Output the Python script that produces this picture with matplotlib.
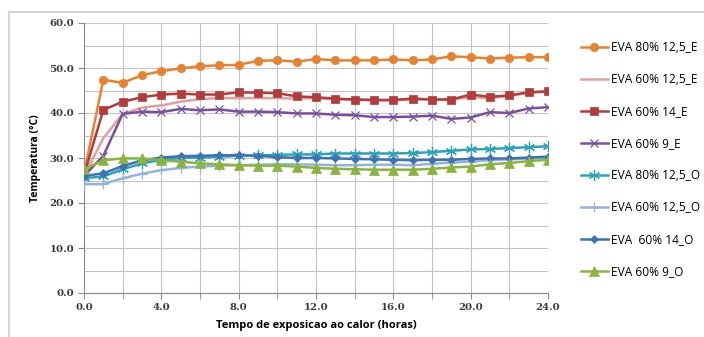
import matplotlib.pyplot as plt
from matplotlib.patches import Rectangle
from matplotlib.ticker import MultipleLocator, FormatStrFormatter

hours = list(range(0, 25))

eva80_125_E = [26.5, 47.4, 46.7, 48.4, 49.3, 49.9, 50.4, 50.6, 50.7, 51.6, 51.7, 51.4, 52.0,
               51.7, 51.7, 51.7, 51.9, 51.7, 51.9, 52.6, 52.4, 52.1, 52.3, 52.4, 52.4]
eva60_125_E = [26.0, 34.4, 39.8, 41.2, 41.7, 42.5, 43.1, 43.3, 43.3, 43.3, 43.3, 43.2, 43.3,
               43.0, 43.0, 42.8, 42.8, 43.0, 43.0, 43.0, 43.5, 43.3, 43.8, 44.5, 44.8]
eva60_14_E = [26.2, 40.7, 42.5, 43.5, 44.1, 44.3, 44.1, 44.1, 44.6, 44.5, 44.4, 43.7, 43.5,
              43.2, 43.0, 42.9, 42.9, 43.2, 43.0, 43.0, 44.1, 43.6, 43.9, 44.6, 44.8]
eva60_9_E = [26.0, 30.5, 39.8, 40.3, 40.2, 40.9, 40.6, 40.8, 40.3, 40.3, 40.2, 39.9, 39.9,
             39.6, 39.5, 39.1, 39.1, 39.2, 39.4, 38.7, 39.0, 40.2, 40.0, 41.0, 41.3]
eva80_125_O = [25.5, 25.9, 27.5, 28.8, 29.6, 30.0, 30.1, 30.3, 30.5, 30.6, 30.7, 30.8, 30.8,
               31.0, 31.0, 31.0, 31.0, 31.1, 31.3, 31.6, 31.9, 32.0, 32.2, 32.4, 32.6]
eva60_125_O = [24.2, 24.2, 25.5, 26.5, 27.3, 27.8, 28.1, 28.3, 28.4, 28.5, 28.6, 28.6, 28.5,
               28.4, 28.4, 28.5, 28.5, 28.4, 28.7, 29.0, 29.2, 29.5, 29.7, 29.9, 30.1]
eva60_14_O = [26.0, 26.6, 28.2, 29.5, 30.1, 30.4, 30.5, 30.6, 30.6, 30.5, 30.2, 30.0, 30.0,
              29.9, 29.8, 29.7, 29.6, 29.5, 29.6, 29.6, 29.8, 29.9, 29.9, 30.1, 30.3]
eva60_9_O = [27.5, 29.5, 29.9, 29.9, 29.5, 29.2, 28.8, 28.6, 28.4, 28.3, 28.3, 28.1, 27.8,
             27.6, 27.5, 27.4, 27.4, 27.4, 27.6, 27.9, 28.1, 28.6, 28.9, 29.3, 29.6]

fig = plt.figure(figsize=(7.04, 3.37), dpi=100)
fig.patches.append(Rectangle((9 / 704, -0.1), 1.1, 1 - 12 / 337 + 0.1, transform=fig.transFigure,
                             fill=False, edgecolor='#d4d4d4', lw=1.5))
ax = fig.add_axes([84 / 704, 1 - 293 / 337, (548 - 84) / 704, (293 - 23) / 337])

# series: data, label, color, marker, size
series = [
    (eva80_125_E, 'EVA 80% 12,5_E', '#e8822f', 'o', 6),
    (eva60_125_E, 'EVA 60% 12,5_E', '#e0a09e', None, 0),
    (eva60_14_E, 'EVA 60% 14_E', '#b23b3b', 's', 6),
    (eva60_9_E, 'EVA 60% 9_E', '#7a4f9e', 'x', 6),
    (eva80_125_O, 'EVA 80% 12,5_O', '#2da3b9', (6, 2, 0), 8),
    (eva60_125_O, 'EVA 60% 12,5_O', '#92b3e0', '+', 7),
    (eva60_14_O, 'EVA  60% 14_O', '#3e72b4', 'D', 4.5),
    (eva60_9_O, 'EVA 60% 9_O', '#8ab43f', '^', 6.5),
]
for vals, lab, col, mk, ms in series:
    ax.plot(hours, vals, color=col, lw=1.8, marker=mk, markersize=ms,
            markeredgewidth=0.9 if mk in ('x', '+', (6, 2, 0)) else 0.5,
            markeredgecolor=col, label=lab, zorder=3)

ax.set_xlim(0, 24)
ax.set_ylim(0, 60)
ax.xaxis.set_major_locator(MultipleLocator(4))
ax.xaxis.set_minor_locator(MultipleLocator(2))
ax.yaxis.set_major_locator(MultipleLocator(10))
ax.yaxis.set_minor_locator(MultipleLocator(5))
ax.xaxis.set_major_formatter(FormatStrFormatter('%.1f'))
ax.yaxis.set_major_formatter(FormatStrFormatter('%.1f'))
ax.grid(True, which='both', color='#c4c4c4', lw=0.8)
ax.set_axisbelow(True)
for s in ['top', 'right']:
    ax.spines[s].set_visible(False)
for s in ['left', 'bottom']:
    ax.spines[s].set_color('#8a8a8a')
ax.tick_params(which='major', length=4, color='#8a8a8a', pad=3)
ax.tick_params(which='minor', length=0)
ax.tick_params(axis='x', which='minor', length=4, color='#8a8a8a')
for t in ax.get_xticklabels() + ax.get_yticklabels():
    t.set_fontfamily('DejaVu Serif')
    t.set_fontweight('bold')
    t.set_fontsize(7.3)
    t.set_color('#3a3a3a')

ax.set_xlabel('Tempo de exposicao ao calor (horas)', fontsize=8, fontweight='bold',
              family='Open Sans', labelpad=6)
ax.set_ylabel('Temperatura (°C)', fontsize=7.5, fontweight='bold', family='Open Sans', labelpad=6)

fig.legend(loc='upper left', bbox_to_anchor=(570 / 704, 1 - 30 / 337), frameon=False,
           prop={'family': 'Open Sans', 'size': 8.6}, labelspacing=1.6,
           handlelength=2.3, handletextpad=0.25)

fig.savefig('out.png', dpi=100)
